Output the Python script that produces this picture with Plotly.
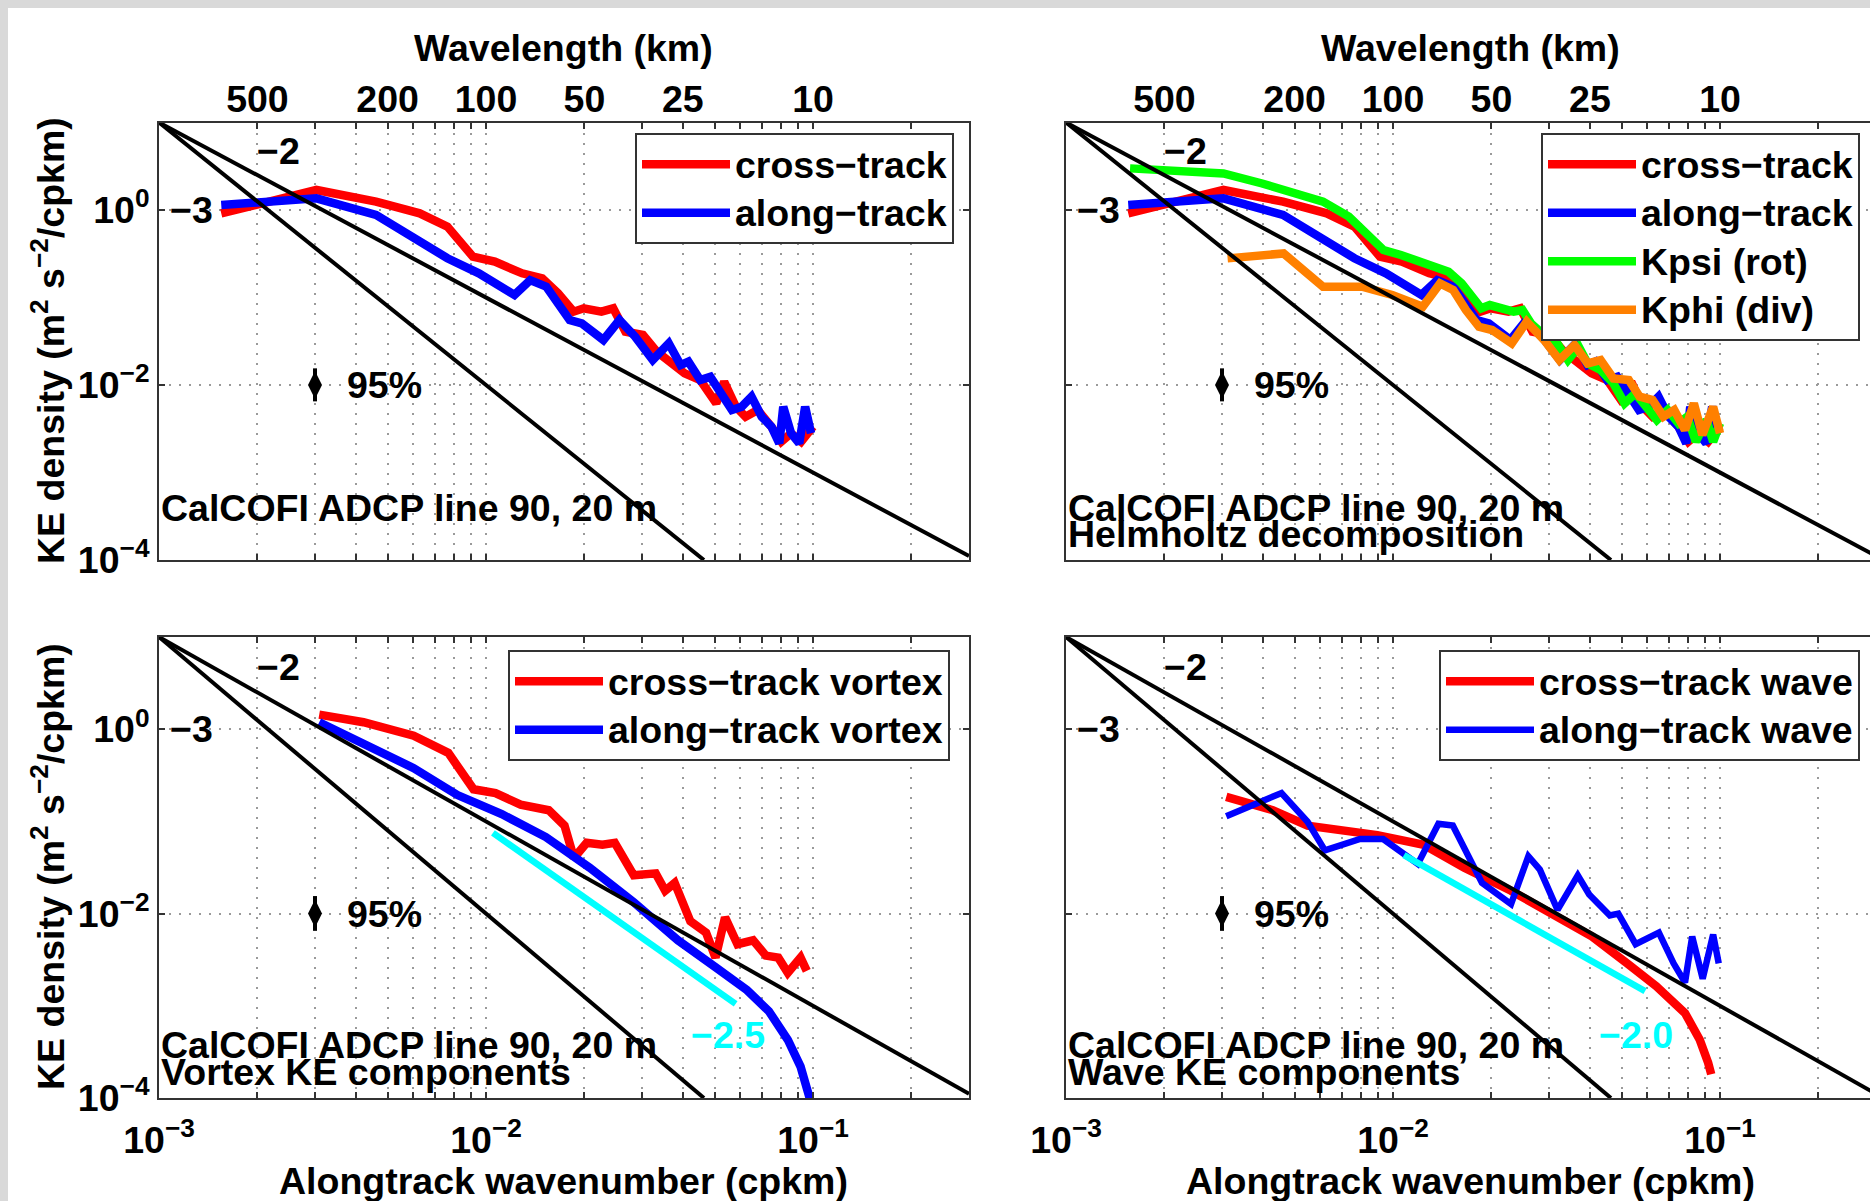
import plotly.graph_objects as go

FONT = "Liberation Sans"
RED, BLUE, GREEN, ORANGE, CYAN = "#ff0000", "#0000ff", "#00ff00", "#ff8000", "#00ffff"

# ---------------- data (wavenumber in cpkm, KE density in m^2 s^-2 / cpkm) ----------------
k_cross = [0.00155, 0.00303, 0.00461, 0.00627, 0.00762, 0.00912, 0.01064, 0.0129, 0.01486, 0.0166,
           0.01854, 0.0199, 0.02254, 0.0245, 0.0267, 0.0302, 0.0333, 0.0372, 0.0405, 0.0452,
           0.0506, 0.0535, 0.0581, 0.0622, 0.0678, 0.0746, 0.0800, 0.0857, 0.0920, 0.1000]
E_cross = [0.916, 1.694, 1.245, 0.916, 0.646, 0.293, 0.257, 0.189, 0.166, 0.112,
           0.0689, 0.0752, 0.0689, 0.0752, 0.0407, 0.0373, 0.0240, 0.0177, 0.0136, 0.0114,
           0.00617, 0.0109, 0.00565, 0.00435, 0.00518, 0.00334, 0.00225, 0.00281, 0.00225, 0.00334]

k_along = [0.00155, 0.00303, 0.00461, 0.0061, 0.00762, 0.00951, 0.01222, 0.01365, 0.01528, 0.01803,
           0.01963, 0.02286, 0.02559, 0.02858, 0.03236, 0.03622, 0.03936, 0.04159, 0.04519, 0.04853,
           0.052, 0.05649, 0.06053, 0.06486, 0.06966, 0.07464, 0.07889, 0.0811, 0.0857, 0.09078,
           0.09462, 0.09863]
E_along = [1.14, 1.358, 0.877, 0.454, 0.281, 0.189, 0.107, 0.158, 0.133, 0.0553,
           0.0507, 0.0327, 0.0553, 0.0357, 0.0193, 0.0299, 0.0169, 0.0185, 0.0114, 0.0124,
           0.00804, 0.00518, 0.00565, 0.00736, 0.00435, 0.00334, 0.00215, 0.00565, 0.00281, 0.00215,
           0.00565, 0.00281]

k_kpsi = [0.00157, 0.00303, 0.00398, 0.00508, 0.00611, 0.00733, 0.00828, 0.00935, 0.01057, 0.0127,
          0.01479, 0.01622, 0.0175, 0.01862, 0.01977, 0.02168, 0.02339, 0.02489, 0.02642, 0.02897,
          0.03177, 0.03428, 0.03698, 0.03936, 0.04315, 0.04721, 0.05105, 0.05508, 0.05943, 0.06412,
          0.06918, 0.07464, 0.07943, 0.08433, 0.09099, 0.09528, 0.1]
E_kpsi = [2.99, 2.62, 2.01, 1.55, 1.245, 0.839, 0.541, 0.349, 0.306, 0.235,
          0.197, 0.145, 0.0977, 0.0752, 0.082, 0.0752, 0.0689, 0.0719, 0.0507, 0.0372,
          0.0299, 0.0193, 0.0274, 0.0177, 0.0148, 0.01045, 0.00617, 0.00804, 0.00565, 0.00398,
          0.00518, 0.00365, 0.00435, 0.00225, 0.00398, 0.00225, 0.00365]

k_kphi = [0.00312, 0.00463, 0.00611, 0.00804, 0.00995, 0.01233, 0.01393, 0.01528, 0.01671, 0.01832,
          0.02009, 0.02307, 0.02564, 0.02897, 0.03228, 0.03589, 0.03936, 0.04315, 0.04721, 0.0526,
          0.05675, 0.0622, 0.06714, 0.07244, 0.07816, 0.08318, 0.08831, 0.09528, 0.1]
E_kphi = [0.280, 0.319, 0.133, 0.133, 0.107, 0.0785, 0.145, 0.122, 0.0719, 0.0463,
          0.0425, 0.0299, 0.053, 0.0327, 0.0193, 0.0286, 0.0177, 0.0193, 0.0119, 0.0114,
          0.00736, 0.00673, 0.00435, 0.00518, 0.00306, 0.00617, 0.00269, 0.00565, 0.00281]

k_vortex_cross = [0.00309, 0.00422, 0.00601, 0.00767, 0.00916, 0.01069, 0.01276, 0.01556, 0.01738, 0.01858,
                  0.02032, 0.0227, 0.02477, 0.02831, 0.03304, 0.03532, 0.03776, 0.04217, 0.0471, 0.05035,
                  0.05383, 0.05875, 0.06561, 0.07178, 0.07834, 0.08375, 0.09162, 0.0957]
E_vortex_cross = [1.44, 1.19, 0.849, 0.553, 0.223, 0.203, 0.152, 0.132, 0.090, 0.040,
                  0.0586, 0.0558, 0.0586, 0.026, 0.0273, 0.0177, 0.0215, 0.00826, 0.00621, 0.00333,
                  0.0091, 0.00466, 0.00513, 0.0035, 0.00333, 0.00228, 0.00333, 0.00239]

k_vortex_along = [0.00309, 0.00422, 0.00601, 0.00818, 0.01117, 0.01524, 0.02075, 0.02831, 0.03864, 0.05035,
                  0.06281, 0.07328, 0.08375, 0.09162, 0.0985]
E_vortex_along = [1.19, 0.702, 0.378, 0.193, 0.120, 0.0676, 0.0315, 0.0133, 0.00513, 0.00262,
                  0.00148, 0.000875, 0.000428, 0.000219, 0.00009]

k_wave_cross = [0.00309, 0.00429, 0.00548, 0.00673, 0.00895, 0.01242, 0.01652, 0.02296, 0.03184, 0.04064,
                0.052, 0.06383, 0.07816, 0.0867, 0.092, 0.094]
E_wave_cross = [0.1845, 0.132, 0.090, 0.0818, 0.071, 0.0558, 0.0315, 0.0177, 0.0091, 0.00564,
                0.00289, 0.00163, 0.000834, 0.000428, 0.000241, 0.000181]

k_wave_along = [0.00309, 0.00456, 0.00548, 0.00619, 0.00793, 0.00933, 0.01191, 0.01377, 0.01524, 0.01871,
                0.02296, 0.02594, 0.02812, 0.03184, 0.03673, 0.03981, 0.04603, 0.04887, 0.05521, 0.06501,
                0.07211, 0.07816, 0.08222, 0.08851, 0.09528, 0.0991]
E_wave_along = [0.114, 0.203, 0.099, 0.0484, 0.0644, 0.0644, 0.0346, 0.0944, 0.090, 0.0215,
                0.0127, 0.0419, 0.030, 0.011, 0.026, 0.0161, 0.00953, 0.010, 0.00466, 0.00621,
                0.00289, 0.00179, 0.00564, 0.00197, 0.00592, 0.00289]

# reference slopes (-2, -3) anchored at the upper-left corner, and fitted slopes
slope2_k = [0.001, 0.3]
slope2_E = [10.0, 1.11e-4]
slope3_k = [0.001, 0.0464]
slope3_E = [10.0, 1.0e-4]
fit25_k = [0.0105, 0.058]
fit25_E = [0.075, 0.00105]
fit20_k = [0.0108, 0.059]
fit20_E = [0.043, 0.00144]

# 95% confidence bar
ci_k = [0.003]
ci_E = [0.01]
ci_plus = [0.0055]
ci_minus = [0.0035]

# ticks
x_tickvals = [0.001, 0.002, 0.003, 0.004, 0.005, 0.006, 0.007, 0.008, 0.009,
              0.01, 0.02, 0.03, 0.04, 0.05, 0.06, 0.07, 0.08, 0.09, 0.1, 0.2, 0.3]
x_top_text = ["", "500", "", "", "200", "", "", "", "",
              "100", "50", "", "25", "", "", "", "", "", "10", "", ""]
x_bottom_text = ["10<sup>\u22123</sup>", "", "", "", "", "", "", "", "",
                 "10<sup>\u22122</sup>", "", "", "", "", "", "", "", "", "10<sup>\u22121</sup>", "", ""]
y_tickvals = [1e-4, 1e-2, 1]
y_ticktext = ["10<sup>\u22124</sup>", "10<sup>\u22122</sup>", "10<sup>0</sup>"]

# ---------------- layout geometry (pixels) ----------------
W, H = 1870, 1201
xL = [159 / W, 969 / W]
xR = [1066 / W, 1.0]
yT = [1 - 560 / H, 1 - 122.5 / H]
yB = [1 - 1098 / H, 1 - 637 / H]
rangeL = [-3, -0.5229]
rangeR = [-3, -0.5413]
FS = 37.5     # text size
LFS = 35      # legend row size


def lname(s):
    return '<span style="font-size:37.5px">' + s + '</span>'


fig = go.Figure()


def add_line(k, E, color, width, xa, ya, name=None, legend=None):
    fig.add_trace(go.Scatter(
        x=k, y=E, mode="lines", line=dict(color=color, width=width),
        name=lname(name) if name else None, showlegend=name is not None, legend=legend,
        xaxis=xa, yaxis=ya, hoverinfo="skip"))


def add_refs(xa, ya):
    add_line(slope3_k, slope3_E, "black", 4, xa, ya)
    add_line(slope2_k, slope2_E, "black", 4, xa, ya)
    fig.add_trace(go.Scatter(
        x=ci_k, y=ci_E, mode="markers", marker=dict(color="black", size=20, symbol="diamond-tall"),
        error_y=dict(type="data", symmetric=False, array=ci_plus, arrayminus=ci_minus,
                     color="black", thickness=4, width=0),
        showlegend=False, xaxis=xa, yaxis=ya, hoverinfo="skip"))


LW = 8.5
# panel 1: top-left
add_line(k_cross, E_cross, RED, LW, "x", "y", "cross\u2212track", "legend")
add_line(k_along, E_along, BLUE, LW, "x", "y", "along\u2212track", "legend")
add_refs("x", "y")

# panel 2: top-right
add_line(k_cross, E_cross, RED, LW, "x2", "y2", "cross\u2212track", "legend2")
add_line(k_along, E_along, BLUE, LW, "x2", "y2", "along\u2212track", "legend2")
add_line(k_kpsi, E_kpsi, GREEN, LW, "x2", "y2", "Kpsi (rot)", "legend2")
add_line(k_kphi, E_kphi, ORANGE, LW, "x2", "y2", "Kphi (div)", "legend2")
add_refs("x2", "y2")

# panel 3: bottom-left
add_line(k_vortex_cross, E_vortex_cross, RED, LW, "x3", "y3", "cross\u2212track vortex", "legend3")
add_line(k_vortex_along, E_vortex_along, BLUE, LW, "x3", "y3", "along\u2212track vortex", "legend3")
add_line(fit25_k, fit25_E, CYAN, 6.5, "x3", "y3")
add_refs("x3", "y3")

# panel 4: bottom-right
add_line(k_wave_cross, E_wave_cross, RED, LW, "x4", "y4", "cross\u2212track wave", "legend4")
add_line(k_wave_along, E_wave_along, BLUE, 6.5, "x4", "y4", "along\u2212track wave", "legend4")
add_line(fit20_k, fit20_E, CYAN, 6.5, "x4", "y4")
add_refs("x4", "y4")

tickfont = dict(family=FONT, size=FS, color="black", weight="bold")


def xaxis(domain, rng, anchor, top):
    return dict(type="log", domain=domain, range=rng, anchor=anchor,
                side="top" if top else "bottom", automargin=False,
                tickmode="array", tickvals=x_tickvals,
                ticktext=x_top_text if top else x_bottom_text,
                ticklabelstandoff=-6 if top else 8,
                showline=True, linecolor="#333333", linewidth=2, mirror="ticks",
                ticks="inside", ticklen=6, tickwidth=1.5, tickcolor="#333333",
                showgrid=True, gridcolor="#9a9a9a", gridwidth=1.5, griddash="2px,8px",
                zeroline=False, tickfont=tickfont, fixedrange=True)


def yaxis(domain, anchor, labels, mirror):
    return dict(type="log", domain=domain, range=[-4, 1], anchor=anchor, automargin=False,
                tickmode="array", tickvals=y_tickvals, ticktext=y_ticktext,
                showticklabels=labels,
                showline=True, linecolor="#333333", linewidth=2, mirror=mirror,
                ticks="inside", ticklen=6, tickwidth=1.5, tickcolor="#333333",
                showgrid=True, gridcolor="#9a9a9a", gridwidth=1.5, griddash="2px,8px",
                zeroline=False, tickfont=tickfont, fixedrange=True)


legend_font = dict(family=FONT, size=LFS, color="black", weight="bold")


def legend(xr, yt):
    return dict(x=xr / W, xanchor="right", y=1 - yt / H, yanchor="top",
                bgcolor="white", bordercolor="#333333", borderwidth=2,
                font=legend_font, itemwidth=88, tracegroupgap=0, traceorder="normal")


annotations = []


def text(x, y, s, xref="paper", yref="paper", color="black", xanchor="center", angle=0):
    annotations.append(dict(x=x, y=y, xref=xref, yref=yref, text=s, showarrow=False,
                            xanchor=xanchor, yanchor="middle", textangle=angle,
                            font=dict(family=FONT, size=FS, color=color, weight="bold")))


for xa, ya in [("x", "y"), ("x2", "y2"), ("x3", "y3"), ("x4", "y4")]:
    text(-2.636, 0.67, "\u22122", xa, ya)
    text(-2.902, 0.0, "\u22123", xa, ya)
    text(-2.31, -2.0, "95%", xa, ya)

text(159 / W, 1 - 508 / H, "CalCOFI ADCP line 90, 20 m", xanchor="left")
text(1066 / W, 1 - 508 / H, "CalCOFI ADCP line 90, 20 m", xanchor="left")
text(1066 / W, 1 - 534 / H, "Helmholtz decomposition", xanchor="left")
text(159 / W, 1 - 1045 / H, "CalCOFI ADCP line 90, 20 m", xanchor="left")
text(159 / W, 1 - 1072 / H, "Vortex KE components", xanchor="left")
text(1066 / W, 1 - 1045 / H, "CalCOFI ADCP line 90, 20 m", xanchor="left")
text(1066 / W, 1 - 1072 / H, "Wave KE components", xanchor="left")

text(-1.261, -3.319, "\u22122.5", "x3", "y3", color=CYAN)
text(-1.257, -3.319, "\u22122.0", "x4", "y4", color=CYAN)

text(563 / W, 1 - 48 / H, "Wavelength (km)")
text(1470 / W, 1 - 48 / H, "Wavelength (km)")
text(563 / W, 1 - 1181 / H, "Alongtrack wavenumber (cpkm)")
text(1470 / W, 1 - 1181 / H, "Alongtrack wavenumber (cpkm)")
ytitle = "KE density (m<sup>2</sup> s<sup>\u22122</sup>/cpkm)"
text(48 / W, 1 - 341 / H, ytitle, angle=-90)
text(48 / W, 1 - 867 / H, ytitle, angle=-90)

fig.update_layout(
    width=W, height=H,
    margin=dict(l=0, r=0, t=0, b=0, pad=0, autoexpand=False),
    paper_bgcolor="#d9d9d9", plot_bgcolor="white",
    font=dict(family=FONT, size=FS, color="black", weight="bold"),
    shapes=[dict(type="rect", xref="paper", yref="paper", x0=8 / W, x1=1.0, y0=0, y1=1 - 8 / H,
                 fillcolor="white", line=dict(width=0), layer="below")],
    xaxis=xaxis(xL, rangeL, "y", True),
    yaxis=yaxis(yT, "x", True, "ticks"),
    xaxis2=xaxis(xR, rangeR, "y2", True),
    yaxis2=yaxis(yT, "x2", False, False),
    xaxis3=xaxis(xL, rangeL, "y3", False),
    yaxis3=yaxis(yB, "x3", True, "ticks"),
    xaxis4=xaxis(xR, rangeR, "y4", False),
    yaxis4=yaxis(yB, "x4", False, False),
    legend=legend(954, 133),
    legend2=legend(1860, 133),
    legend3=legend(950, 650),
    legend4=legend(1860, 650),
    annotations=annotations,
    showlegend=True,
)

fig.write_html("out.html", config={"displayModeBar": False},
               post_script="document.body.style.margin='0';document.body.style.overflow='hidden';")
